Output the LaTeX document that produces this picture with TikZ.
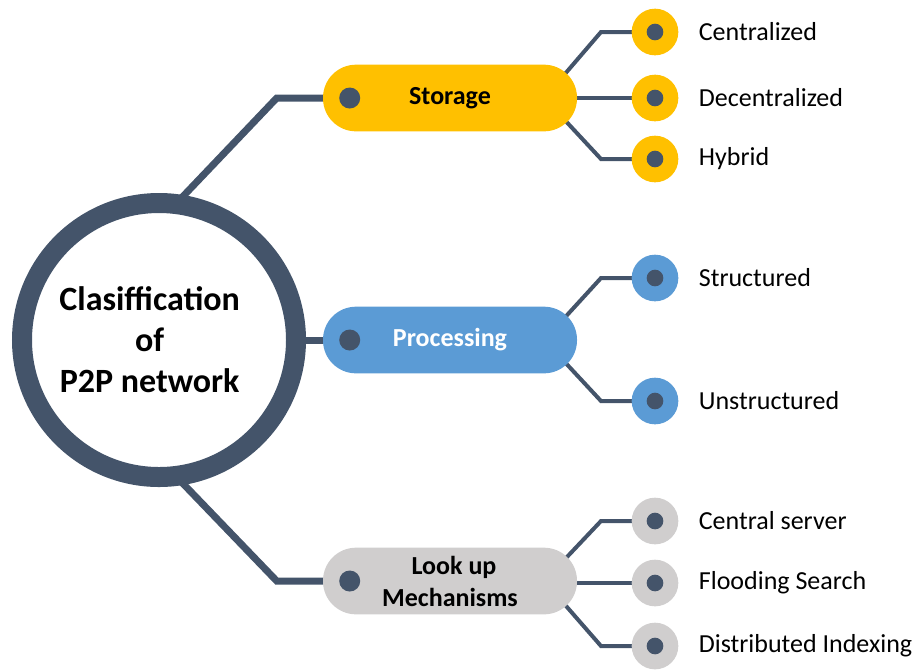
\documentclass[tikz,border=0pt]{standalone}
\usepackage{fontspec}
\setmainfont{Carlito}
\usetikzlibrary{positioning,backgrounds}

\definecolor{slate}{HTML}{44546A}
\definecolor{gold}{HTML}{FFC000}
\definecolor{sky}{HTML}{5B9BD5}
\definecolor{ash}{HTML}{D0CECE}

\tikzset{
    hub/.style={circle, draw=slate, line width=15pt, fill=white, minimum size=205.5pt, outer sep=0pt},
    hubtext/.style={align=center, inner sep=0pt, font=\bfseries\fontsize{25.5}{30.75}\selectfont},
    pill/.style={rectangle, rounded corners=24.75pt, minimum width=190.5pt, minimum height=50pt, align=center, font=\bfseries\fontsize{19.5}{24}\selectfont},
    pin/.style={circle, fill=slate, minimum size=15.75pt, inner sep=0pt},
    leaf/.style={circle, minimum size=35pt, inner sep=0pt},
    leafpin/.style={circle, fill=slate, minimum size=12.5pt, inner sep=0pt},
    leaftext/.style={inner sep=0pt, font=\fontsize{19.5}{23}\selectfont},
    trunk/.style={draw=slate, line width=5.25pt},
    twig/.style={draw=slate, line width=3pt}
}

\begin{document}
\begin{tikzpicture}[x=0.75pt, y=-0.75pt]

                    \useasboundingbox (0,0) rectangle (923,669);

                    \node[hub] (hub) at (159,340) {};
                    \node[hubtext] (hubtext) at ([xshift=-7pt]hub.center) {Clasiffication\\of\\P2P network};

                    \node[pill, fill=gold] (storage) at (450,98) {Storage};
                    \node[pill, fill=sky, text=white] (processing) at (450,340) {Processing};
                    \node[pill, fill=ash] (lookup) at (450,581) {\hspace*{6pt}Look up\\Mechanisms};

                    \node[pin] (storagepin) at ([xshift=20.25pt]storage.west) {};
                    \node[pin] (processingpin) at ([xshift=20.25pt]processing.west) {};
                    \node[pin] (lookuppin) at ([xshift=20.25pt]lookup.west) {};

                    \coordinate (storagearc) at ([xshift=-24.75pt]storage.east);
                    \coordinate (processingarc) at ([xshift=-24.75pt]processing.east);
                    \coordinate (lookuparc) at ([xshift=-24.75pt]lookup.east);

                    \node[leaf, fill=gold] (central) at (655,32) {};
                    \node[leaf, fill=gold] (decentral) at (655,98) {};
                    \node[leaf, fill=gold] (hybrid) at (655,159) {};
                    \node[leafpin] (centralpin) at (central) {};
                    \node[leafpin] (decentralpin) at (decentral) {};
                    \node[leafpin] (hybridpin) at (hybrid) {};
                    \node[leaftext, right=15pt of central] (centraltext) {Centralized};
                    \node[leaftext, right=15pt of decentral] (decentraltext) {Decentralized};
                    \node[leaftext, right=15pt of hybrid] (hybridtext) {Hybrid};

                    \node[leaf, fill=sky] (structured) at (655,278) {};
                    \node[leaf, fill=sky] (unstructured) at (655,401) {};
                    \node[leafpin] (structuredpin) at (structured) {};
                    \node[leafpin] (unstructuredpin) at (unstructured) {};
                    \node[leaftext, right=15pt of structured] (structuredtext) {Structured};
                    \node[leaftext, right=15pt of unstructured] (unstructuredtext) {Unstructured};

                    \node[leaf, fill=ash] (server) at (655,521) {};
                    \node[leaf, fill=ash] (flooding) at (655,583) {};
                    \node[leaf, fill=ash] (indexing) at (655,646) {};
                    \node[leafpin] (serverpin) at (server) {};
                    \node[leafpin] (floodingpin) at (flooding) {};
                    \node[leafpin] (indexingpin) at (indexing) {};
                    \node[leaftext, right=15pt of server] (servertext) {Central server};
                    \node[leaftext, right=15pt of flooding] (floodingtext) {Flooding Search};
                    \node[leaftext, right=15pt of indexing] (indexingtext) {Distributed Indexing};

                    \begin{scope}[on background layer]
                    \draw[trunk] (storagepin) -- ++(-73,0) -- (hub.83);
                    \draw[trunk] (processingpin) -- (hub.east);
                    \draw[trunk] (lookuppin) -- ++(-73,0) -- (hub.-83);

                    \draw[twig] (centralpin) -- ++(-54,0) -- (storagearc);
                    \draw[twig] (decentralpin) -- (decentralpin -| storagearc);
                    \draw[twig] (hybridpin) -- ++(-54,0) -- (storagearc);

                    \draw[twig] (structuredpin) -- ++(-54,0) -- (processingarc);
                    \draw[twig] (unstructuredpin) -- ++(-54,0) -- (processingarc);

                    \draw[twig] (serverpin) -- ++(-54,0) -- (lookuparc);
                    \draw[twig] (floodingpin) -- (floodingpin -| lookuparc);
                    \draw[twig] (indexingpin) -- ++(-54,0) -- (lookuparc);
                    \end{scope}

\end{tikzpicture}
\end{document}
